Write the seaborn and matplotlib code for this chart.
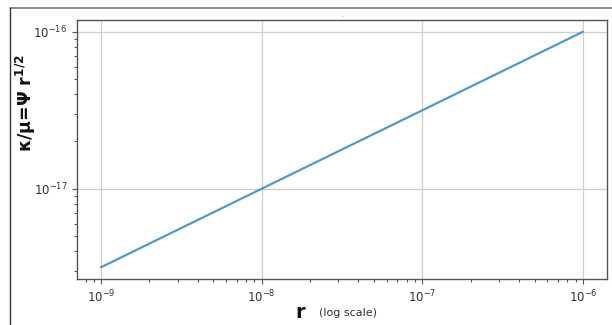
import matplotlib
matplotlib.use("Agg")
import matplotlib.pyplot as plt
import seaborn as sns
import pandas as pd
from matplotlib.lines import Line2D
from matplotlib.ticker import LogLocator, NullFormatter

# data (kappa/mu = Psi * r^(1/2))
r_values = [1e-9, 1e-8, 1e-7, 1e-6]
k_over_mu = [3.16e-18, 1e-17, 3.16e-17, 1e-16]

df = pd.DataFrame({"r": r_values, "k": k_over_mu})

sns.set_style("ticks")
plt.rcParams['font.family'] = ['DejaVu Sans']

fig = plt.figure(figsize=(6.12, 3.25), dpi=100)
ax = fig.add_axes([77/612, 1 - 279/325, (607-77)/612, (279-20)/325])

sns.lineplot(data=df, x="r", y="k", ax=ax, color="#3f8fc4", linewidth=1.6, alpha=0.9)
ax.set_xscale("log")
ax.set_yscale("log")
ax.margins(x=0.05, y=0.05)
ax.yaxis.set_minor_locator(LogLocator(base=10, subs=range(2, 10)))
ax.yaxis.set_minor_formatter(NullFormatter())
ax.xaxis.set_minor_formatter(NullFormatter())

ax.grid(True, which="major", color="#cfcfcf", linewidth=0.9)
ax.set_axisbelow(True)
for s in ax.spines.values():
    s.set_color("#555555")
    s.set_linewidth(1.0)
ax.tick_params(axis="both", which="major", labelsize=8.5, colors="#555555", labelcolor="#333333", length=3.5)
ax.tick_params(axis="both", which="minor", colors="#555555", length=2, width=0.8)

ax.set_xlabel("")
ax.set_ylabel("")
fig.text(300/612, 1 - 312/325, "r", fontsize=14, fontweight="bold", ha="center", va="center", color="#111111")
fig.text(348/612, 1 - 313/325, "(log scale)", fontsize=8, ha="center", va="center", color="#333333")
fig.text(26/612, 1 - 103/325, r"κ/μ=Ψ r$^{\mathbf{1/2}}$", fontsize=12.5, fontweight="bold",
         rotation=90, ha="center", va="center", color="#111111")
ax.set_title("·", fontsize=5, color="#888888", pad=1)

# screenshot frame
fig.add_artist(Line2D([10/612, 1.0], [1 - 8/325, 1 - 8/325], transform=fig.transFigure, color="#777777", linewidth=1.2))
fig.add_artist(Line2D([10/612, 10/612], [1 - 8/325, 0.0], transform=fig.transFigure, color="#333333", linewidth=1.0))

fig.savefig("out.png", dpi=100)
